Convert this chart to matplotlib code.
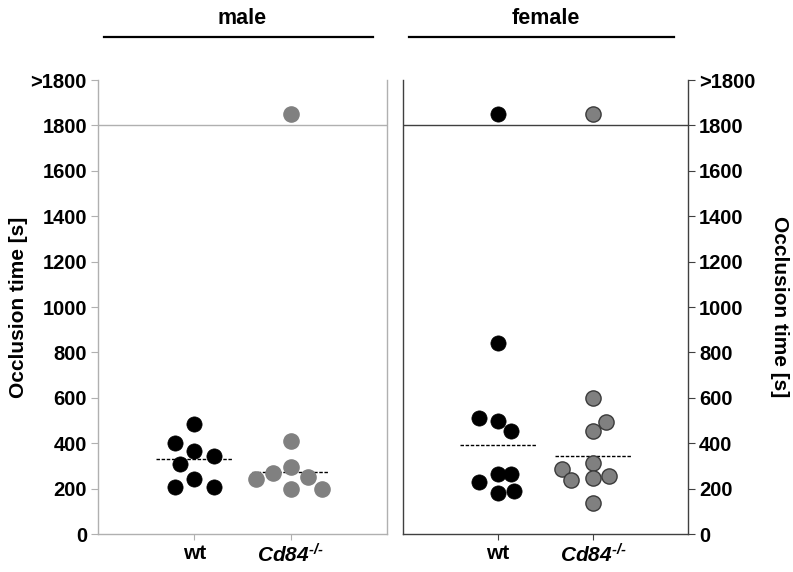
import matplotlib
matplotlib.use('Agg')
import matplotlib.pyplot as plt

plt.rcParams['font.family'] = ['Liberation Sans', 'DejaVu Sans']
plt.rcParams['font.weight'] = 'bold'
plt.rcParams['mathtext.fontset'] = 'custom'
plt.rcParams['mathtext.rm'] = 'Liberation Sans:italic:bold'
plt.rcParams['mathtext.it'] = 'Liberation Sans:italic:bold'

groups = ['wt', r'$\mathit{Cd84}^{\text{-/-}}$']
panels = ['male', 'female']

# occlusion times [s]; 1850 = ">1800" (no occlusion)
male_wt = [483, 400, 365, 343, 308, 242, 207, 207]
male_ko = [409, 295, 268, 251, 242, 198, 198, 1850]
female_wt = [1850, 840, 510, 497, 453, 229, 264, 264, 180, 189]
female_ko = [1850, 598, 492, 453, 312, 286, 237, 246, 255, 136]

# horizontal spread of the dots within a group
male_wt_dx = [0, -0.2, 0, 0.2, -0.15, 0, -0.2, 0.2]
male_ko_dx = [0, 0, -0.18, 0.18, -0.36, 0, 0.33, 0]
female_wt_dx = [0, 0, -0.2, 0, 0.14, -0.2, 0, 0.14, 0, 0.17]
female_ko_dx = [0, 0, 0.14, 0, 0, -0.33, -0.23, 0, 0.17, 0]

means = {'male': [330, 273], 'female': [391, 343]}

yticks = [0, 200, 400, 600, 800, 1000, 1200, 1400, 1600, 1800, 2000]
ytick_labels = ['0', '200', '400', '600', '800', '1000', '1200', '1400',
                '1600', '1800', '>1800']

fig = plt.figure(figsize=(7.93, 5.72), dpi=100)
ax_m = fig.add_axes([0.1236, 0.0664, 0.3644, 0.7937])
ax_f = fig.add_axes([0.5082, 0.0664, 0.3594, 0.7937])

data = {
    'male': [(male_wt, male_wt_dx), (male_ko, male_ko_dx)],
    'female': [(female_wt, female_wt_dx), (female_ko, female_ko_dx)],
}

for ax, panel in zip([ax_m, ax_f], panels):
    light = panel == 'male'
    spine_col = '#b0b0b0' if light else '#404040'
    ko_edge = '#808080' if light else '#3a3a3a'
    for i, (vals, dx) in enumerate(data[panel]):
        xs = [i + 1 + d for d in dx]
        if i == 0:
            ax.scatter(xs, vals, s=120, color='black', edgecolor='black',
                       linewidth=0.5, zorder=3, clip_on=False)
        else:
            ax.scatter(xs, vals, s=120, color='#808080', edgecolor=ko_edge,
                       linewidth=1.0, zorder=3, clip_on=False)
        ax.plot([i + 1 - 0.4, i + 1 + 0.4], [means[panel][i]] * 2,
                ls=(0, (2.5, 1.2)), color='black', lw=1.0, zorder=2)

    ax.axhline(1800, color=spine_col, lw=1.0, zorder=1)
    ax.set_xlim(0, 3)
    ax.set_ylim(0, 2000)
    ax.set_xticks([1, 2])
    ax.set_xticklabels(groups, fontsize=15, fontweight='bold')
    ax.spines['top'].set_visible(False)
    for s in ['left', 'right', 'bottom']:
        ax.spines[s].set_color(spine_col)
        ax.spines[s].set_linewidth(1.0)
    ax.tick_params(axis='x', length=4, color=spine_col, pad=3)
    ax.set_yticks(yticks)
    ax.set_yticklabels(ytick_labels, fontsize=14.5, fontweight='bold')
    ax.tick_params(axis='y', length=5, color=spine_col, pad=3)

ax_m.yaxis.tick_left()
ax_m.set_ylabel('Occlusion time [s]', fontsize=15, fontweight='bold',
                labelpad=2)
ax_f.yaxis.tick_right()
ax_f.yaxis.set_label_position('right')
ax_f.set_ylabel('Occlusion time [s]', fontsize=15, fontweight='bold',
                rotation=270, labelpad=24)

# panel headers with underline
for ax, panel in zip([ax_m, ax_f], panels):
    pos = ax.get_position()
    cx = pos.x0 + pos.width / 2
    fig.text(cx, 0.967, panel, ha='center', va='center', fontsize=15.5,
             fontweight='bold')
    fig.add_artist(plt.Line2D([pos.x0 + 0.007, pos.x1 - 0.018],
                              [0.936, 0.936], color='black', lw=1.6))

fig.savefig('out.png', dpi=100)
